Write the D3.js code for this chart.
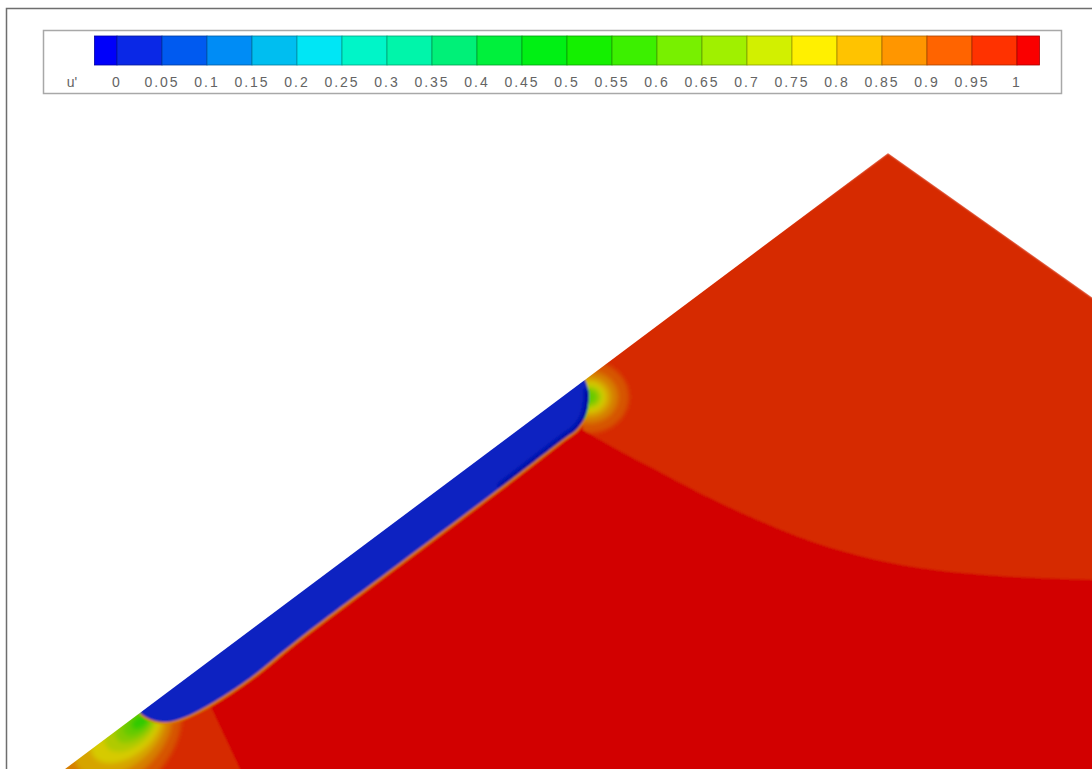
<!DOCTYPE html>
<html>
<head>
<meta charset="utf-8">
<script src="https://cdn.jsdelivr.net/npm/d3@7"></script>
<style>
  html, body { margin: 0; padding: 0; background: #fff; }
  svg { display: block; }
  text { font-family: "Liberation Sans", Arial, sans-serif; }
</style>
</head>
<body>
<svg id="chart" width="1092" height="769"></svg>
<script>
// ---- contour levels and colour table (flood, 0.05 steps) ----
const levels = d3.range(0, 21).map(i => +(i * 0.05).toFixed(2));
const levelLabels = ["0","0.05","0.1","0.15","0.2","0.25","0.3","0.35","0.4","0.45","0.5",
                     "0.55","0.6","0.65","0.7","0.75","0.8","0.85","0.9","0.95","1"];
const levelColors = ["#0000fa","#0a28e6","#005af0","#008cf5","#00bef0","#00e6f5","#00f5c8",
                     "#00f5aa","#00f078","#00f03c","#00f014","#14f000","#3cf000","#78f000",
                     "#a0f000","#d2f000","#fff000","#ffc300","#ff9600","#ff6400","#ff3200","#fa0000"];
const variableName = "u'";

// ---- geometry of the section (x, y in m) ----
// embankment outline: toe, crest, landward slope
const domainOutline = [[-2.67,-2],[41.15,30.8],[55,21.0],[55,-2]];

// low-velocity layer along the upstream slope (upper edge runs just outside the slope)
const layerTop = [[3.7,2.95],[4.6,3.75],[10,7.75],[18,13.75],[25.8,19.6]];
const layerEnd = [[26.15,19.0],[26.15,18.2],[25.95,17.5],[25.55,16.95],[25.0,16.55]];
const layerBottom = [[21.75,14.05],[16.75,10.3],[11.75,6.55],[9.4,4.65],[8.25,3.85],
                     [6.75,2.95],[5.75,2.5],[5.0,2.35],[4.25,2.5],[3.8,2.8]];

// level line u = 1 across the crest region
const crestLevelLine = [[25.9,16.95],[27.75,15.9],[29.75,14.85],[32.25,13.55],[34.75,12.4],
                        [37.25,11.4],[39.75,10.65],[42.75,10.05],[46.75,9.65],[51.35,9.45],[55,9.35]];
// level line u = 1 near the toe
const toeLevelLine = [[7.25,3.2],[8.75,0],[9.7,-2]];

// values of the main zones
const zoneValues = { body: 1.02, crest: 0.97, toe: 0.97, layer: 0.02, layerEdge: -0.01 };

// local contour rings at the layer ends: level value and radius (m)
const endRingValues = [0.92, 0.87, 0.82, 0.77, 0.72, 0.67, 0.62];
const endRingRadii  = [2.0, 1.45, 1.1, 0.85, 0.65, 0.5, 0.35];
const endRingCentre = [26.2, 18.6];

const toeRingValues = [0.92, 0.87, 0.82, 0.77, 0.72, 0.67, 0.62, 0.57];
const toeRingRadii  = [4.6, 3.4, 2.6, 2.0, 1.5, 1.1, 0.8, 0.5];
const toeRingOrigin = [4.0, 2.55];

// ---- scales ----
const W = 1092, H = 769;
const x = d3.scaleLinear().domain([-3.25, 51.35]).range([0, W]);
const y = d3.scaleLinear().domain([0, 38.45]).range([H, 0]);
const color = d3.scaleThreshold().domain(levels).range(levelColors);
// plot surface is drawn with light shading
const shade = (c, k = 0.49) => d3.color(color(c)).darker(k).formatHex();

const svg = d3.select("#chart");
const smooth = d3.line().x(d => x(d[0])).y(d => y(d[1])).curve(d3.curveCatmullRom.alpha(0.5));
const closed = d3.line().x(d => x(d[0])).y(d => y(d[1])).curve(d3.curveLinearClosed);
const smoothClosed = d3.line().x(d => x(d[0])).y(d => y(d[1])).curve(d3.curveCatmullRomClosed.alpha(0.5));

const defs = svg.append("defs");
defs.append("clipPath").attr("id", "frameClip")
  .append("rect").attr("x", 7).attr("y", 9).attr("width", W).attr("height", H);
defs.append("clipPath").attr("id", "domainClip")
  .append("path").attr("d", closed(domainOutline));
defs.append("filter").attr("id", "soft").attr("x", -0.05).attr("y", -0.05).attr("width", 1.1).attr("height", 1.1)
  .append("feGaussianBlur").attr("stdDeviation", 0.9);
defs.append("filter").attr("id", "softer").attr("x", -0.5).attr("y", -0.5).attr("width", 2).attr("height", 2)
  .append("feGaussianBlur").attr("stdDeviation", 2.2);

// zones
const crestZonePath = () => {
  const p = d3.path();
  const pts = [[25.8,19.6],[41.15,30.8],[55,21.0]];
  p.moveTo(x(pts[0][0]), y(pts[0][1]));
  pts.slice(1).forEach(d => p.lineTo(x(d[0]), y(d[1])));
  return p.toString() + smooth(crestLevelLine.slice().reverse()).replace(/^M/, "L") + "Z";
};
const toeZone = [[-2.67,-2],[3.8,2.8],[5.0,2.35],[6.75,2.95]].concat(toeLevelLine);
const layerPoly = layerTop.concat(layerEnd, layerBottom.slice(0, -1));

defs.append("clipPath").attr("id", "crestClip")
  .append("path").attr("d", crestZonePath());
defs.append("clipPath").attr("id", "layerClip")
  .append("path").attr("d", smoothClosed(layerPoly));

const frame = svg.append("g").attr("clip-path", "url(#frameClip)");
const field = frame.append("g").attr("clip-path", "url(#domainClip)")
  .append("g").attr("filter", "url(#soft)");

field.append("path").attr("d", closed(domainOutline)).attr("fill", shade(zoneValues.body));
field.append("path").attr("d", crestZonePath()).attr("fill", shade(zoneValues.crest));
field.append("path").attr("d", closed(toeZone)).attr("fill", shade(zoneValues.toe));

// rings near the toe: ellipses stretched down the slope
const slopeDir = [-0.8, -0.6];
const ellipse = (cx, cy, a, b, ang) => d3.range(0, 48).map(i => {
  const t = i / 48 * 2 * Math.PI;
  const u = a * Math.cos(t), v = b * Math.sin(t);
  return [cx + u * Math.cos(ang) - v * Math.sin(ang), cy + u * Math.sin(ang) + v * Math.cos(ang)];
});
const slopeAng = Math.atan2(0.6, 0.8);
const toeRings = field.append("g").attr("filter", "url(#softer)");
toeRingValues.forEach((v, i) => {
  const a = toeRingRadii[i], b = a * 0.6;
  const cx = toeRingOrigin[0] + slopeDir[0] * 0.6 * a;
  const cy = toeRingOrigin[1] + slopeDir[1] * 0.6 * a;
  toeRings.append("path").attr("d", closed(ellipse(cx, cy, a, b, slopeAng))).attr("fill", shade(v));
});

// rings at the upper end of the layer
const endRings = field.append("g").attr("clip-path", "url(#crestClip)")
  .append("g").attr("filter", "url(#softer)");
endRingValues.forEach((v, i) => {
  endRings.append("path").attr("d", closed(ellipse(endRingCentre[0], endRingCentre[1], endRingRadii[i], endRingRadii[i] * 0.9, 0)))
    .attr("fill", shade(v));
});

// thin transition band under the layer
field.append("path").attr("d", smooth(layerEnd.slice(2).concat(layerBottom)))
  .attr("fill", "none").attr("stroke", shade(0.87)).attr("stroke-width", 4.5);
field.append("path").attr("d", smooth(layerEnd.slice(0, 3)))
  .attr("fill", "none").attr("stroke", shade(0.62)).attr("stroke-width", 3);

// the layer itself, with its shaded downstream end
field.append("path").attr("d", smoothClosed(layerPoly)).attr("fill", shade(zoneValues.layer));
field.append("g").attr("clip-path", "url(#layerClip)")
  .append("path").attr("d", smooth(layerEnd.concat(layerBottom.slice(0, 1))))
  .attr("fill", "none").attr("stroke", shade(zoneValues.layerEdge, 1.4))
  .attr("stroke-width", 7).attr("filter", "url(#softer)").attr("opacity", 0.8);

// plot frame
svg.append("rect").attr("x", 6.5).attr("y", 8.5).attr("width", W + 10).attr("height", H + 10)
  .attr("fill", "none").attr("stroke", "#6e6e6e").attr("stroke-width", 1.5);

// ---- legend ----
const lx = d3.scaleLinear().domain([0, 1]).range([117, 1017]);
const stepW = lx(0.05) - lx(0);
const legend = svg.append("g");
legend.append("rect").attr("x", 43.5).attr("y", 30.5).attr("width", 1018).attr("height", 63)
  .attr("fill", "#fff").attr("stroke", "#a8a8a8").attr("stroke-width", 1.5);

const cells = [{x0: lx(0) - stepW / 2, x1: lx(0), c: levelColors[0]}]
  .concat(d3.range(20).map(i => ({x0: lx(levels[i]), x1: lx(levels[i + 1]), c: levelColors[i + 1]})))
  .concat([{x0: lx(1), x1: lx(1) + stepW / 2, c: levelColors[21]}]);
legend.selectAll("rect.cell").data(cells).join("rect").attr("class", "cell")
  .attr("x", d => d.x0).attr("y", 36).attr("width", d => d.x1 - d.x0).attr("height", 29)
  .attr("fill", d => d.c).attr("stroke", d => d3.color(d.c).darker(1.2)).attr("stroke-width", 0.8);

legend.selectAll("text.lab").data(levels).join("text").attr("class", "lab")
  .attr("x", d => lx(d)).attr("y", 87).attr("text-anchor", "middle")
  .attr("font-size", 14).attr("letter-spacing", 2).attr("fill", "#646464")
  .text((d, i) => levelLabels[i]);
legend.append("text").attr("x", 72).attr("y", 87).attr("text-anchor", "middle")
  .attr("font-size", 14).attr("fill", "#646464").text(variableName);
</script>
</body>
</html>
